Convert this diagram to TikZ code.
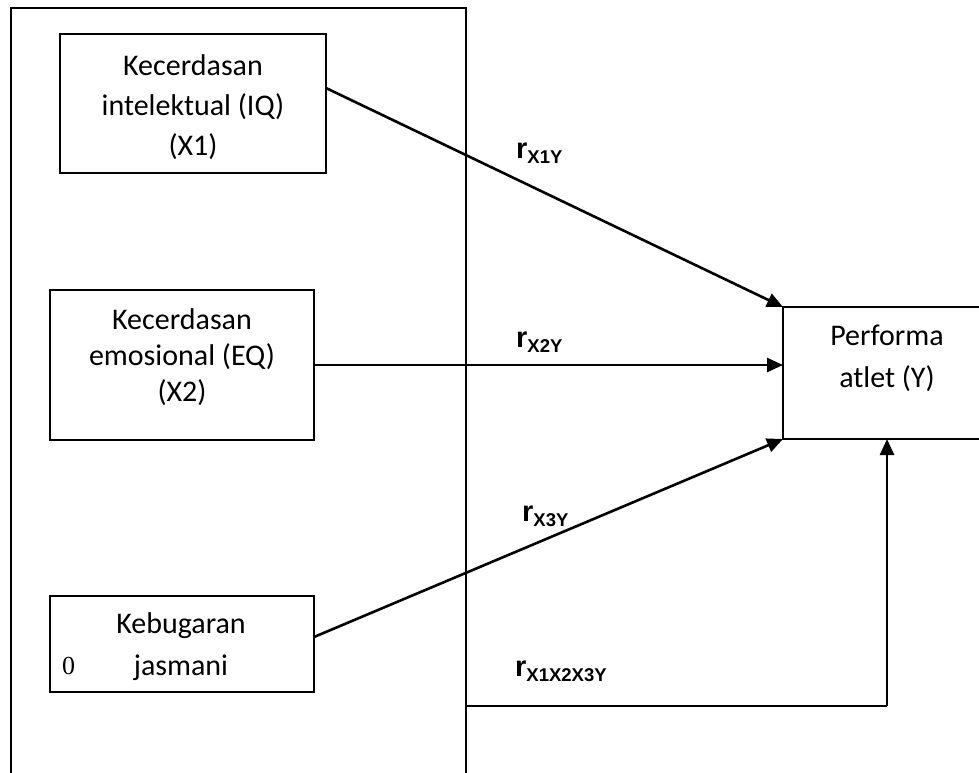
\documentclass[tikz,border=0pt]{standalone}
\usepackage{fontspec}
\setmainfont{Carlito}
\newfontfamily\lblfont{Liberation Sans}
\newfontfamily\serffont{Liberation Serif}
\usetikzlibrary{arrows.meta}
\tikzset{
  boxnode/.style={draw=black, line width=2pt, anchor=north west, inner sep=0pt, outer sep=0pt},
  txt/.style={font=\fontsize{30}{#1}\selectfont, align=center, anchor=base, inner sep=0pt},
  conn/.style={line width=2.6pt, -{Triangle[length=16pt,width=14pt]}},
  plain/.style={line width=2.4pt},
  rlabel/.style={font=\lblfont\bfseries\fontsize{29}{29}\selectfont, anchor=base west, inner sep=0pt}
}
\newcommand{\rsub}[1]{r\raisebox{-5pt}{\fontsize{18.5}{18.5}\selectfont #1}}
\begin{document}
\begin{tikzpicture}[x=1pt,y=-1pt]
\useasboundingbox (0,0) rectangle (979,772);
\clip (0,0) rectangle (979,772);
\node[boxnode, minimum width=455pt, minimum height=800pt] (frame) at (11,8) {};
\node[boxnode, minimum width=266pt, minimum height=139pt] (x1) at (60,34) {};
\node[boxnode, minimum width=264pt, minimum height=150pt] (x2) at (50,290) {};
\node[boxnode, minimum width=264pt, minimum height=96pt] (x3) at (50,596) {};
\node[boxnode, minimum width=208pt, minimum height=132pt] (y) at (783,307) {};

\node[txt=40] (x1t) at (193,155) {Kecerdasan\\intelektual (IQ)\\(X1)};
\node[txt=36] (x2t) at (182,401) {Kecerdasan\\emosional (EQ)\\(X2)};
\node[txt=42] (x3t) at (181,675) {Kebugaran\\jasmani};
\node[font=\serffont\fontsize{26}{26}\selectfont, anchor=base west, inner sep=0pt] (zero) at (62,674) {0};
\node[txt=42] (yt) at (887,387) {Performa\\atlet (Y)};

\draw[conn] ([yshift=15.5pt]x1.east) -- (y.north west);
\draw[conn] (x2.east) -- (x2.east -| y.west);
\draw[conn] ([yshift=7pt]x3.east) -- (y.south west);
\coordinate (bstart) at (frame.east |- 0,706);
\coordinate (bcorner) at (y.south |- 0,706);
\draw[plain] (bstart) -- (bcorner);
\draw[conn] (bcorner) -- (y.south);

\node[rlabel] (l1) at (516,158) {\rsub{X1Y}};
\node[rlabel] (l2) at (516,347) {\rsub{X2Y}};
\node[rlabel] (l3) at (522,521) {\rsub{X3Y}};
\node[rlabel] (l4) at (515,676) {\rsub{X1X2X3Y}};
\end{tikzpicture}
\end{document}
